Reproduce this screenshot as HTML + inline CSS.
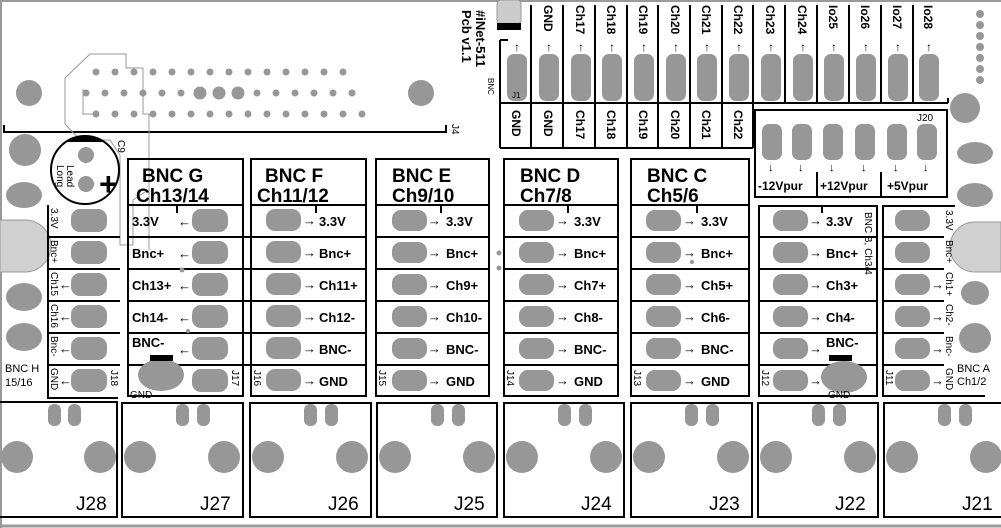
<!DOCTYPE html>
<html><head><meta charset="utf-8"><style>
html,body{margin:0;padding:0;background:#fff;}
svg{display:block;}
text{font-family:"Liberation Sans",sans-serif;fill:#000;}
.b{font-weight:bold;font-size:13px;}
.h{font-weight:bold;font-size:19px;}
.s{font-size:10px;}
.j{font-size:19px;}
.p{fill:#979797;}
.k{stroke:#000;stroke-width:2;fill:none;}
.t{stroke:#000;stroke-width:2;}
</style></head><body>
<svg width="1001" height="528" viewBox="0 0 1001 528" xmlns="http://www.w3.org/2000/svg">
<rect x="0" y="0" width="1001" height="528" fill="#fff"/>
<line x1="0" y1="1" x2="1001" y2="1" stroke="#999" stroke-width="2"/>
<line x1="1" y1="0" x2="1" y2="528" stroke="#999" stroke-width="2"/>
<line x1="0" y1="526" x2="1001" y2="526" stroke="#999" stroke-width="3"/>

<!-- top connector J4 -->
<polyline points="4,125 4,132 446,132 446,125" class="k"/>
<text x="448" y="128" class="s" transform="rotate(90 452 128)">J4</text>
<circle cx="29" cy="93" r="13" class="p"/><circle cx="421" cy="93" r="13" class="p"/>
<g class="p">
<circle cx="96" cy="72" r="3.5"/><circle cx="115" cy="72" r="3.5"/><circle cx="134" cy="72" r="3.5"/><circle cx="153" cy="72" r="3.5"/><circle cx="172" cy="72" r="3.5"/><circle cx="191" cy="72" r="3.5"/><circle cx="210" cy="72" r="3.5"/><circle cx="229" cy="72" r="3.5"/><circle cx="248" cy="72" r="3.5"/><circle cx="267" cy="72" r="3.5"/><circle cx="286" cy="72" r="3.5"/><circle cx="305" cy="72" r="3.5"/><circle cx="324" cy="72" r="3.5"/><circle cx="343" cy="72" r="3.5"/>
<circle cx="86" cy="93" r="3.5"/><circle cx="105" cy="93" r="3.5"/><circle cx="124" cy="93" r="3.5"/><circle cx="143" cy="93" r="3.5"/><circle cx="162" cy="93" r="3.5"/><circle cx="181" cy="93" r="3.5"/><circle cx="200" cy="93" r="6.5"/><circle cx="219" cy="93" r="6.5"/><circle cx="238" cy="93" r="6.5"/><circle cx="257" cy="93" r="3.5"/><circle cx="276" cy="93" r="3.5"/><circle cx="295" cy="93" r="3.5"/><circle cx="314" cy="93" r="3.5"/><circle cx="333" cy="93" r="3.5"/><circle cx="352" cy="93" r="3.5"/>
<circle cx="96" cy="114" r="3.5"/><circle cx="115" cy="114" r="3.5"/><circle cx="134" cy="114" r="3.5"/><circle cx="153" cy="114" r="3.5"/><circle cx="172" cy="114" r="3.5"/><circle cx="191" cy="114" r="3.5"/><circle cx="210" cy="114" r="3.5"/><circle cx="229" cy="114" r="3.5"/><circle cx="248" cy="114" r="3.5"/><circle cx="267" cy="114" r="3.5"/><circle cx="286" cy="114" r="3.5"/><circle cx="305" cy="114" r="3.5"/><circle cx="324" cy="114" r="3.5"/><circle cx="343" cy="114" r="3.5"/><circle cx="362" cy="114" r="3.5"/>
</g>
<polyline points="90,54 126,54 126,68 143,68 143,114 149,114 149,250" fill="none" stroke="#999" stroke-width="1"/>
<polyline points="90,54 65,78 65,124 80,140 110,140 120,155 120,245 133,245 133,200 148,190" fill="none" stroke="#999" stroke-width="1"/>
<polyline points="83,89 83,114 96,114" fill="none" stroke="#999" stroke-width="1"/>

<!-- title -->
<text x="476" y="10" style="font-size:13px;font-weight:bold" transform="rotate(90 476 10)">#iNet-511</text>
<text x="462" y="10" style="font-size:13px;font-weight:bold" transform="rotate(90 462 10)">Pcb v1.1</text>
<text x="488" y="78" style="font-size:8px" transform="rotate(90 488 78)">BNC</text>
<rect x="497" y="0" width="24" height="24" rx="4" fill="#ccc" stroke="#999"/>
<rect x="497" y="23" width="24" height="7" fill="#000"/>

<!-- top header strip -->
<g class="t">
<line x1="500" y1="40" x2="500" y2="148"/><line x1="500" y1="40" x2="508" y2="40"/>
<line x1="500" y1="148" x2="753" y2="148"/>
<line x1="500" y1="103" x2="948" y2="103"/>
<line x1="948" y1="103" x2="948" y2="98"/>
<line x1="531" y1="5" x2="531" y2="148"/><line x1="563" y1="5" x2="563" y2="148"/><line x1="595" y1="5" x2="595" y2="148"/><line x1="627" y1="5" x2="627" y2="148"/><line x1="658" y1="5" x2="658" y2="148"/><line x1="690" y1="5" x2="690" y2="148"/><line x1="722" y1="5" x2="722" y2="148"/>
<line x1="753" y1="5" x2="753" y2="148"/><line x1="785" y1="5" x2="785" y2="103"/><line x1="817" y1="5" x2="817" y2="103"/><line x1="849" y1="5" x2="849" y2="103"/><line x1="881" y1="5" x2="881" y2="103"/><line x1="913" y1="5" x2="913" y2="103"/>
</g>
<g class="p">
<rect x="507" y="54" width="20" height="47" rx="7"/><rect x="539" y="54" width="20" height="47" rx="7"/><rect x="571" y="54" width="20" height="47" rx="7"/><rect x="602" y="54" width="20" height="47" rx="7"/><rect x="634" y="54" width="20" height="47" rx="7"/><rect x="666" y="54" width="20" height="47" rx="7"/><rect x="697" y="54" width="20" height="47" rx="7"/><rect x="729" y="54" width="20" height="47" rx="7"/><rect x="761" y="54" width="20" height="47" rx="7"/><rect x="793" y="54" width="20" height="47" rx="7"/><rect x="824" y="54" width="20" height="47" rx="7"/><rect x="856" y="54" width="20" height="47" rx="7"/><rect x="888" y="54" width="20" height="47" rx="7"/><rect x="919" y="54" width="20" height="47" rx="7"/>
</g>
<g class="b" style="font-size:12px">
<text x="517" y="51" text-anchor="middle">↑</text><text x="549" y="51" text-anchor="middle">↑</text><text x="581" y="51" text-anchor="middle">↑</text><text x="612" y="51" text-anchor="middle">↑</text><text x="644" y="51" text-anchor="middle">↑</text><text x="676" y="51" text-anchor="middle">↑</text><text x="707" y="51" text-anchor="middle">↑</text><text x="739" y="51" text-anchor="middle">↑</text><text x="771" y="51" text-anchor="middle">↑</text><text x="803" y="51" text-anchor="middle">↑</text><text x="834" y="51" text-anchor="middle">↑</text><text x="866" y="51" text-anchor="middle">↑</text><text x="898" y="51" text-anchor="middle">↑</text><text x="929" y="51" text-anchor="middle">↑</text>
</g>
<g class="b" style="font-size:12px">
<text transform="translate(544,5) rotate(90)">GND</text>
<text transform="translate(576,5) rotate(90)">Ch17</text>
<text transform="translate(607,5) rotate(90)">Ch18</text>
<text transform="translate(639,5) rotate(90)">Ch19</text>
<text transform="translate(671,5) rotate(90)">Ch20</text>
<text transform="translate(702,5) rotate(90)">Ch21</text>
<text transform="translate(734,5) rotate(90)">Ch22</text>
<text transform="translate(766,5) rotate(90)">Ch23</text>
<text transform="translate(798,5) rotate(90)">Ch24</text>
<text transform="translate(829,5) rotate(90)">Io25</text>
<text transform="translate(861,5) rotate(90)">Io26</text>
<text transform="translate(893,5) rotate(90)">Io27</text>
<text transform="translate(924,5) rotate(90)">Io28</text>
<text transform="translate(512,110) rotate(90)">GND</text>
<text transform="translate(544,110) rotate(90)">GND</text>
<text transform="translate(576,110) rotate(90)">Ch17</text>
<text transform="translate(607,110) rotate(90)">Ch18</text>
<text transform="translate(639,110) rotate(90)">Ch19</text>
<text transform="translate(671,110) rotate(90)">Ch20</text>
<text transform="translate(702,110) rotate(90)">Ch21</text>
<text transform="translate(734,110) rotate(90)">Ch22</text>
</g>
<text x="512" y="98" style="font-size:8px">J1</text>
<g class="p"><circle cx="980" cy="14" r="4"/><circle cx="980" cy="25" r="4"/><circle cx="980" cy="36" r="4"/><circle cx="980" cy="47" r="4"/><circle cx="980" cy="58" r="4"/><circle cx="980" cy="69" r="4"/><circle cx="980" cy="80" r="4"/></g>

<!-- J20 -->
<rect x="755" y="110" width="192" height="87" class="k"/>
<line x1="817" y1="172" x2="817" y2="197" class="t"/><line x1="881" y1="172" x2="881" y2="197" class="t"/>
<g class="p"><rect x="762" y="124" width="20" height="36" rx="7"/><rect x="792" y="124" width="20" height="36" rx="7"/><rect x="823" y="124" width="20" height="36" rx="7"/><rect x="855" y="124" width="20" height="36" rx="7"/><rect x="887" y="124" width="20" height="36" rx="7"/><rect x="917" y="124" width="20" height="36" rx="7"/></g>
<g class="b" style="font-size:11px"><text x="768" y="171">↓</text><text x="798" y="171">↓</text><text x="829" y="171">↓</text><text x="861" y="171">↓</text><text x="893" y="171">↓</text><text x="923" y="171">↓</text></g>
<text x="917" y="121" style="font-size:10px">J20</text>
<g class="b" style="font-size:12px"><text x="758" y="190">-12Vpur</text><text x="820" y="190">+12Vpur</text><text x="887" y="190">+5Vpur</text></g>

<!-- left/right mounting blobs -->
<g class="p">
<circle cx="25" cy="150" r="16"/><ellipse cx="24" cy="195" rx="18" ry="13"/><ellipse cx="24" cy="297" rx="18" ry="14"/><ellipse cx="24" cy="337" rx="18" ry="14"/>
<circle cx="965" cy="108" r="15"/><ellipse cx="975" cy="153" rx="18" ry="11"/><ellipse cx="975" cy="195" rx="18" ry="12"/><ellipse cx="975" cy="293" rx="14" ry="12"/><ellipse cx="975" cy="338" rx="16" ry="15"/>
</g>
<path d="M0,220 L25,220 A25,25 0 0 1 25,272 L0,272 Z" fill="#d0d0d0" stroke="#999"/>
<path d="M1001,222 L975,222 A25,25 0 0 0 975,272 L1001,272 Z" fill="#d0d0d0" stroke="#999"/>

<!-- capacitor C9 -->
<circle cx="85" cy="170" r="34" class="k"/>
<path d="M66,142 A34,34 0 0 1 104,142 Z" fill="#000"/>
<circle cx="86" cy="155" r="8" class="p"/><circle cx="86" cy="184" r="8" class="p"/>
<text x="99" y="195" style="font-size:32px;font-weight:bold">+</text>
<text transform="translate(57,165) rotate(90)" style="font-size:10px">Long</text>
<text transform="translate(67,165) rotate(90)" style="font-size:10px">Lead</text>
<text transform="translate(118,140) rotate(90)" style="font-size:10px">C9</text>

<!-- module H (left) -->
<polyline points="48,205 48,398 118,398" class="k"/>
<g class="t"><line x1="48" y1="237" x2="120" y2="237"/><line x1="48" y1="269" x2="120" y2="269"/><line x1="48" y1="301" x2="120" y2="301"/><line x1="48" y1="333" x2="120" y2="333"/><line x1="48" y1="365" x2="120" y2="365"/></g>
<g class="p"><rect x="71" y="209" width="36" height="23" rx="9"/><rect x="71" y="241" width="36" height="23" rx="9"/><rect x="71" y="273" width="36" height="23" rx="9"/><rect x="71" y="305" width="36" height="23" rx="9"/><rect x="71" y="337" width="36" height="23" rx="9"/><rect x="71" y="369" width="36" height="23" rx="9"/></g>
<g class="s"><text transform="translate(51,208) rotate(90)">3.3V</text><text transform="translate(51,240) rotate(90)">Bnc+</text><text transform="translate(51,272) rotate(90)">Ch15</text><text transform="translate(51,304) rotate(90)">Ch16</text><text transform="translate(51,336) rotate(90)">Bnc-</text><text transform="translate(51,368) rotate(90)">GND</text><text transform="translate(111,370) rotate(90)">J18</text></g>
<g class="b"><text x="59" y="289">←</text><text x="59" y="321">←</text><text x="59" y="353">←</text><text x="59" y="385">←</text></g>
<text x="5" y="372" style="font-size:11px">BNC H</text><text x="5" y="386" style="font-size:11px">15/16</text>

<!-- module G -->
<rect x="128" y="159" width="115" height="237" class="k"/>
<line x1="128" y1="205" x2="243" y2="205" class="t"/>
<text x="142" y="182" class="h">BNC G</text><text x="136" y="202" class="h">Ch13/14</text>
<g class="t"><line x1="128" y1="237" x2="247" y2="237"/><line x1="128" y1="269" x2="247" y2="269"/><line x1="128" y1="301" x2="247" y2="301"/><line x1="128" y1="333" x2="247" y2="333"/><line x1="128" y1="365" x2="247" y2="365"/><line x1="177" y1="205" x2="177" y2="213"/></g>
<g class="p"><rect x="192" y="209" width="36" height="23" rx="9"/><rect x="192" y="241" width="36" height="23" rx="9"/><rect x="192" y="273" width="36" height="23" rx="9"/><rect x="192" y="305" width="36" height="23" rx="9"/><rect x="192" y="337" width="36" height="23" rx="9"/><rect x="192" y="369" width="36" height="23" rx="9"/><ellipse cx="161" cy="375" rx="23" ry="16"/><circle cx="182" cy="270" r="2.5"/><circle cx="188" cy="331" r="2"/></g>
<rect x="150" y="355" width="23" height="6" fill="#000"/>
<g class="b"><text x="132" y="226">3.3V</text><text x="132" y="258">Bnc+</text><text x="132" y="290">Ch13+</text><text x="132" y="322">Ch14-</text><text x="132" y="347">BNC-</text>
<text x="178" y="226">←</text><text x="178" y="258">←</text><text x="178" y="290">←</text><text x="178" y="322">←</text><text x="178" y="354">←</text></g>
<text x="130" y="398" class="s">GND</text>
<text transform="translate(232,370) rotate(90)" class="s">J17</text>

<!-- generic modules F E D C -->
<g transform="translate(251,0)">
<rect x="0" y="159" width="115" height="237" class="k"/><line x1="0" y1="205" x2="115" y2="205" class="t"/>
<text x="14" y="182" class="h">BNC F</text><text x="6" y="202" class="h">Ch11/12</text>
<g class="t"><line x1="-4" y1="237" x2="115" y2="237"/><line x1="-4" y1="269" x2="115" y2="269"/><line x1="-4" y1="301" x2="115" y2="301"/><line x1="-4" y1="333" x2="115" y2="333"/><line x1="-4" y1="365" x2="115" y2="365"/><line x1="65" y1="205" x2="65" y2="213"/></g>
<g class="p"><rect x="15" y="209" width="35" height="22" rx="9"/><rect x="15" y="241" width="35" height="22" rx="9"/><rect x="15" y="273" width="35" height="22" rx="9"/><rect x="15" y="305" width="35" height="22" rx="9"/><rect x="15" y="337" width="35" height="22" rx="9"/><rect x="15" y="369" width="35" height="22" rx="9"/></g>
<g class="b"><text x="52" y="225">→</text><text x="52" y="257">→</text><text x="52" y="289">→</text><text x="52" y="321">→</text><text x="52" y="353">→</text><text x="52" y="385">→</text>
<text x="68" y="226">3.3V</text><text x="68" y="258">Bnc+</text><text x="68" y="290">Ch11+</text><text x="68" y="322">Ch12-</text><text x="68" y="354">BNC-</text><text x="68" y="386">GND</text></g>
<text transform="translate(3,370) rotate(90)" class="s">J16</text>
</g>
<g transform="translate(376,0)">
<rect x="0" y="159" width="113" height="237" class="k"/><line x1="0" y1="205" x2="113" y2="205" class="t"/>
<text x="16" y="182" class="h">BNC E</text><text x="16" y="202" class="h">Ch9/10</text>
<g class="t"><line x1="0" y1="237" x2="113" y2="237"/><line x1="0" y1="269" x2="113" y2="269"/><line x1="0" y1="301" x2="113" y2="301"/><line x1="0" y1="333" x2="113" y2="333"/><line x1="0" y1="365" x2="113" y2="365"/><line x1="65" y1="205" x2="65" y2="213"/></g>
<g class="p"><rect x="16" y="210" width="35" height="21" rx="9"/><rect x="16" y="242" width="35" height="21" rx="9"/><rect x="16" y="274" width="35" height="21" rx="9"/><rect x="16" y="306" width="35" height="21" rx="9"/><rect x="16" y="338" width="35" height="21" rx="9"/><rect x="16" y="370" width="35" height="21" rx="9"/><circle cx="123" cy="253" r="2.5"/><circle cx="123" cy="268" r="2.5"/></g>
<g class="b"><text x="52" y="225">→</text><text x="52" y="257">→</text><text x="52" y="289">→</text><text x="52" y="321">→</text><text x="52" y="353">→</text><text x="52" y="385">→</text>
<text x="70" y="226">3.3V</text><text x="70" y="258">Bnc+</text><text x="70" y="290">Ch9+</text><text x="70" y="322">Ch10-</text><text x="70" y="354">BNC-</text><text x="70" y="386">GND</text></g>
<text transform="translate(3,370) rotate(90)" class="s">J15</text>
</g>
<g transform="translate(504,0)">
<rect x="0" y="159" width="114" height="237" class="k"/><line x1="0" y1="205" x2="114" y2="205" class="t"/>
<text x="16" y="182" class="h">BNC D</text><text x="16" y="202" class="h">Ch7/8</text>
<g class="t"><line x1="0" y1="237" x2="114" y2="237"/><line x1="0" y1="269" x2="114" y2="269"/><line x1="0" y1="301" x2="114" y2="301"/><line x1="0" y1="333" x2="114" y2="333"/><line x1="0" y1="365" x2="114" y2="365"/><line x1="64" y1="205" x2="64" y2="213"/></g>
<g class="p"><rect x="15" y="210" width="35" height="21" rx="9"/><rect x="15" y="242" width="35" height="21" rx="9"/><rect x="15" y="274" width="35" height="21" rx="9"/><rect x="15" y="306" width="35" height="21" rx="9"/><rect x="15" y="338" width="35" height="21" rx="9"/><rect x="15" y="370" width="35" height="21" rx="9"/></g>
<g class="b"><text x="52" y="225">→</text><text x="52" y="257">→</text><text x="52" y="289">→</text><text x="52" y="321">→</text><text x="52" y="353">→</text><text x="52" y="385">→</text>
<text x="70" y="226">3.3V</text><text x="70" y="258">Bnc+</text><text x="70" y="290">Ch7+</text><text x="70" y="322">Ch8-</text><text x="70" y="354">BNC-</text><text x="70" y="386">GND</text></g>
<text transform="translate(3,370) rotate(90)" class="s">J14</text>
</g>
<g transform="translate(631,0)">
<rect x="0" y="159" width="118" height="237" class="k"/><line x1="0" y1="205" x2="118" y2="205" class="t"/>
<text x="16" y="182" class="h">BNC C</text><text x="16" y="202" class="h">Ch5/6</text>
<g class="t"><line x1="0" y1="237" x2="118" y2="237"/><line x1="0" y1="269" x2="118" y2="269"/><line x1="0" y1="301" x2="118" y2="301"/><line x1="0" y1="333" x2="118" y2="333"/><line x1="0" y1="365" x2="118" y2="365"/><line x1="66" y1="205" x2="66" y2="213"/></g>
<g class="p"><rect x="15" y="210" width="35" height="21" rx="9"/><rect x="15" y="242" width="35" height="21" rx="9"/><rect x="15" y="274" width="35" height="21" rx="9"/><rect x="15" y="306" width="35" height="21" rx="9"/><rect x="15" y="338" width="35" height="21" rx="9"/><rect x="15" y="370" width="35" height="21" rx="9"/><circle cx="61" cy="262" r="2"/></g>
<g class="b"><text x="52" y="225">→</text><text x="52" y="257">→</text><text x="52" y="289">→</text><text x="52" y="321">→</text><text x="52" y="353">→</text><text x="52" y="385">→</text>
<text x="70" y="226">3.3V</text><text x="70" y="258">Bnc+</text><text x="70" y="290">Ch5+</text><text x="70" y="322">Ch6-</text><text x="70" y="354">BNC-</text><text x="70" y="386">GND</text></g>
<text transform="translate(3,370) rotate(90)" class="s">J13</text>
</g>

<!-- module B -->
<rect x="759" y="206" width="118" height="190" class="k"/>
<g class="t"><line x1="759" y1="237" x2="877" y2="237"/><line x1="759" y1="269" x2="877" y2="269"/><line x1="759" y1="301" x2="877" y2="301"/><line x1="759" y1="333" x2="877" y2="333"/><line x1="759" y1="365" x2="877" y2="365"/><line x1="822" y1="206" x2="822" y2="213"/></g>
<g class="p"><rect x="773" y="210" width="35" height="21" rx="9"/><rect x="773" y="242" width="35" height="21" rx="9"/><rect x="773" y="274" width="35" height="21" rx="9"/><rect x="773" y="306" width="35" height="21" rx="9"/><rect x="773" y="338" width="35" height="21" rx="9"/><rect x="773" y="370" width="35" height="21" rx="9"/><ellipse cx="844" cy="377" rx="23" ry="16"/></g>
<rect x="829" y="355" width="23" height="6" fill="#000"/>
<g class="b"><text x="809" y="225">→</text><text x="809" y="257">→</text><text x="809" y="289">→</text><text x="809" y="321">→</text><text x="809" y="353">→</text><text x="809" y="385">→</text>
<text x="826" y="226">3.3V</text><text x="826" y="258">Bnc+</text><text x="826" y="290">Ch3+</text><text x="826" y="322">Ch4-</text><text x="826" y="347">BNC-</text></g>
<text transform="translate(865,212) rotate(90)" class="s">BNC B, Ch3/4</text>
<text transform="translate(762,370) rotate(90)" class="s">J12</text>
<text x="828" y="398" class="s">GND</text>

<!-- module A -->
<polyline points="955,206 883,206 883,396 985,396" class="k"/>
<g class="t"><line x1="883" y1="237" x2="944" y2="237"/><line x1="883" y1="269" x2="944" y2="269"/><line x1="883" y1="301" x2="944" y2="301"/><line x1="883" y1="333" x2="944" y2="333"/><line x1="883" y1="365" x2="944" y2="365"/></g>
<g class="p"><rect x="895" y="210" width="35" height="21" rx="9"/><rect x="895" y="242" width="35" height="21" rx="9"/><rect x="895" y="274" width="35" height="21" rx="9"/><rect x="895" y="306" width="35" height="21" rx="9"/><rect x="895" y="338" width="35" height="21" rx="9"/><rect x="895" y="370" width="35" height="21" rx="9"/></g>
<g class="b"><text x="931" y="289">→</text><text x="931" y="321">→</text><text x="931" y="353">→</text><text x="931" y="385">→</text></g>
<g class="s"><text transform="translate(946,210) rotate(90)">3.3V</text><text transform="translate(946,240) rotate(90)">Bnc+</text><text transform="translate(946,272) rotate(90)">Ch1+</text><text transform="translate(946,304) rotate(90)">Ch2-</text><text transform="translate(946,336) rotate(90)">Bnc-</text><text transform="translate(946,368) rotate(90)">GND</text><text transform="translate(886,370) rotate(90)">J11</text></g>
<text x="957" y="372" style="font-size:11px">BNC A</text><text x="957" y="385" style="font-size:11px">Ch1/2</text>

<!-- bottom BNC row -->
<g>
<polyline points="0,402 117,402 117,517 0,517" class="k"/>
<g class="p"><rect x="48" y="404" width="13" height="22" rx="6"/><rect x="68" y="404" width="13" height="22" rx="6"/><circle cx="17" cy="457" r="16"/><circle cx="100" cy="457" r="16"/></g>
<text x="76" y="510" class="j">J28</text>
</g>
<g transform="translate(122,0)">
<rect x="0" y="403" width="121" height="114" class="k"/>
<g class="p"><rect x="54" y="404" width="13" height="22" rx="6"/><rect x="75" y="404" width="13" height="22" rx="6"/><circle cx="18" cy="457" r="16"/><circle cx="102" cy="457" r="16"/></g>
<text x="78" y="510" class="j">J27</text>
</g>
<g transform="translate(250,0)">
<rect x="0" y="403" width="121" height="114" class="k"/>
<g class="p"><rect x="54" y="404" width="13" height="22" rx="6"/><rect x="75" y="404" width="13" height="22" rx="6"/><circle cx="18" cy="457" r="16"/><circle cx="102" cy="457" r="16"/></g>
<text x="78" y="510" class="j">J26</text>
</g>
<g transform="translate(377,0)">
<rect x="0" y="403" width="120" height="114" class="k"/>
<g class="p"><rect x="54" y="404" width="13" height="22" rx="6"/><rect x="75" y="404" width="13" height="22" rx="6"/><circle cx="18" cy="457" r="16"/><circle cx="102" cy="457" r="16"/></g>
<text x="77" y="510" class="j">J25</text>
</g>
<g transform="translate(504,0)">
<rect x="0" y="403" width="120" height="114" class="k"/>
<g class="p"><rect x="54" y="404" width="13" height="22" rx="6"/><rect x="75" y="404" width="13" height="22" rx="6"/><circle cx="18" cy="457" r="16"/><circle cx="102" cy="457" r="16"/></g>
<text x="77" y="510" class="j">J24</text>
</g>
<g transform="translate(631,0)">
<rect x="0" y="403" width="121" height="114" class="k"/>
<g class="p"><rect x="54" y="404" width="13" height="22" rx="6"/><rect x="75" y="404" width="13" height="22" rx="6"/><circle cx="18" cy="457" r="16"/><circle cx="102" cy="457" r="16"/></g>
<text x="78" y="510" class="j">J23</text>
</g>
<g transform="translate(758,0)">
<rect x="0" y="403" width="120" height="114" class="k"/>
<g class="p"><rect x="54" y="404" width="13" height="22" rx="6"/><rect x="75" y="404" width="13" height="22" rx="6"/><circle cx="18" cy="457" r="16"/><circle cx="102" cy="457" r="16"/></g>
<text x="77" y="510" class="j">J22</text>
</g>
<g transform="translate(884,0)">
<polyline points="117,403 0,403 0,517 117,517" class="k"/>
<g class="p"><rect x="54" y="404" width="13" height="22" rx="6"/><rect x="75" y="404" width="13" height="22" rx="6"/><circle cx="18" cy="457" r="16"/><circle cx="102" cy="457" r="16"/></g>
<text x="78" y="510" class="j">J21</text>
</g>
</svg>
</body></html>
